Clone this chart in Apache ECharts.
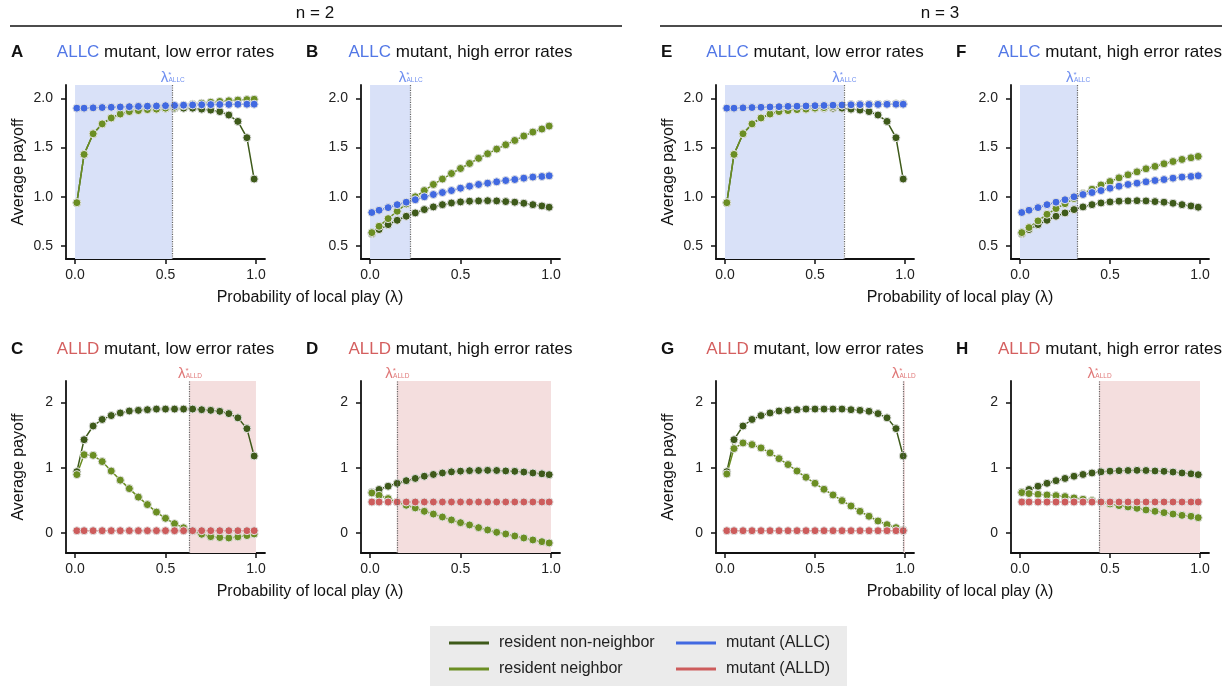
<!DOCTYPE html>
<html><head><meta charset="utf-8">
<script src="https://cdn.jsdelivr.net/npm/echarts/dist/echarts.min.js"></script>
<style>html,body{margin:0;padding:0;background:#fff}#c{width:1229px;height:686px}</style>
</head><body><div id="c"></div>
<script>
// ---------------- data ----------------
const lambda = [0.01,0.05,0.10,0.15,0.20,0.25,0.30,0.35,0.40,0.45,0.50,0.55,0.60,0.65,0.70,0.75,0.80,0.85,0.90,0.95,0.99];

const nonNeighborLow  = [0.94,1.43,1.64,1.74,1.80,1.84,1.87,1.88,1.89,1.90,1.90,1.90,1.90,1.90,1.89,1.88,1.865,1.83,1.765,1.60,1.18];
const nonNeighborHigh = [0.625,0.667,0.717,0.761,0.802,0.836,0.87,0.897,0.92,0.937,0.948,0.955,0.958,0.96,0.958,0.951,0.945,0.934,0.92,0.907,0.894];

const neighborA = [0.94,1.43,1.64,1.74,1.80,1.84,1.865,1.875,1.885,1.89,1.90,1.91,1.925,1.94,1.95,1.96,1.968,1.975,1.982,1.987,1.99];
const neighborB = [0.636,0.70,0.778,0.853,0.927,1.0,1.063,1.125,1.18,1.236,1.287,1.338,1.39,1.437,1.484,1.528,1.572,1.617,1.657,1.688,1.718];
const neighborC = [0.895,1.20,1.19,1.095,0.95,0.81,0.68,0.55,0.435,0.32,0.225,0.143,0.08,0.03,-0.02,-0.056,-0.07,-0.077,-0.06,-0.04,-0.015];
const neighborD = [0.614,0.578,0.527,0.476,0.425,0.384,0.332,0.29,0.245,0.2,0.158,0.123,0.082,0.046,0.01,-0.015,-0.046,-0.077,-0.107,-0.133,-0.153];
const neighborE = [0.94,1.43,1.64,1.74,1.80,1.84,1.865,1.875,1.885,1.89,1.90,1.905,1.915,1.93,1.937,1.939,1.94,1.941,1.943,1.944,1.944];
const neighborF = [0.636,0.687,0.755,0.822,0.88,0.93,0.982,1.033,1.077,1.12,1.155,1.192,1.223,1.253,1.284,1.308,1.335,1.358,1.379,1.396,1.41];
const neighborG = [0.905,1.294,1.38,1.355,1.304,1.228,1.14,1.049,0.95,0.854,0.762,0.67,0.583,0.496,0.414,0.332,0.256,0.184,0.128,0.082,0.046];
const neighborH = [0.619,0.604,0.593,0.583,0.573,0.558,0.537,0.517,0.496,0.47,0.445,0.42,0.399,0.378,0.353,0.332,0.312,0.29,0.27,0.256,0.235];

const mutantALLCLow  = [1.90,1.90,1.903,1.906,1.909,1.912,1.915,1.918,1.92,1.922,1.925,1.927,1.93,1.932,1.934,1.936,1.937,1.938,1.939,1.94,1.94];
const mutantALLCHigh = [0.84,0.863,0.89,0.92,0.945,0.97,1.0,1.023,1.043,1.063,1.087,1.107,1.125,1.138,1.152,1.165,1.175,1.189,1.2,1.206,1.213];
const mutantALLDLow  = [0.035,0.035,0.035,0.035,0.035,0.035,0.035,0.035,0.035,0.035,0.035,0.035,0.035,0.035,0.035,0.035,0.035,0.035,0.035,0.035,0.035];
const mutantALLDHigh = [0.475,0.475,0.475,0.475,0.475,0.475,0.475,0.475,0.475,0.475,0.475,0.475,0.475,0.475,0.475,0.475,0.475,0.475,0.475,0.475,0.475];

const panelLetters = ['A','B','C','D','E','F','G','H'];
const panelMutant  = ['ALLC','ALLC','ALLD','ALLD','ALLC','ALLC','ALLD','ALLD'];
const panelTitles  = ['mutant, low error rates','mutant, high error rates','mutant, low error rates','mutant, high error rates',
                      'mutant, low error rates','mutant, high error rates','mutant, low error rates','mutant, high error rates'];
const lambdaStar   = [0.537,0.222,0.632,0.148,0.66,0.32,0.99,0.439];
const topTicks     = [0.5,1.0,1.5,2.0];
const bottomTicks  = [0,1,2];
const xTicks       = [0,0.5,1];
const seriesNames  = ['resident non-neighbor','resident neighbor','mutant (ALLC)','mutant (ALLD)'];
const headers      = ['n = 2','n = 3'];

// ---------------- styling / layout ----------------
const FONT = 'Liberation Sans, Arial, Helvetica, sans-serif';
const C_DARK = '#3e5a1a', C_LIGHT = '#6b8e23', C_BLUE = '#4169e1', C_RED = '#cd5c5c';
const T_BLUE = '#5277e6', T_RED = '#d45f5f';
const L_BLUE = '#6f8ff0', L_RED = '#e07878';
const SH_BLUE = '#d9e1f8', SH_RED = '#f4dede';

const panels = [
  {grid:[66,85,199,174],  row:0, nonN:nonNeighborLow,  nb:neighborA, mut:mutantALLCLow},
  {grid:[361,85,199,174], row:0, nonN:nonNeighborHigh, nb:neighborB, mut:mutantALLCHigh},
  {grid:[66,381,199,172], row:1, nonN:nonNeighborLow,  nb:neighborC, mut:mutantALLDLow},
  {grid:[361,381,199,172],row:1, nonN:nonNeighborHigh, nb:neighborD, mut:mutantALLDHigh},
  {grid:[716,85,198,174], row:0, nonN:nonNeighborLow,  nb:neighborE, mut:mutantALLCLow},
  {grid:[1011,85,198,174],row:0, nonN:nonNeighborHigh, nb:neighborF, mut:mutantALLCHigh},
  {grid:[716,381,198,172],row:1, nonN:nonNeighborLow,  nb:neighborG, mut:mutantALLDLow},
  {grid:[1011,381,198,172],row:1, nonN:nonNeighborHigh, nb:neighborH, mut:mutantALLDHigh}
];
const yRange = [[0.368,2.135],[-0.307,2.33]];

const grids=[], xAxes=[], yAxes=[], series=[];
const axisLine = {show:true, onZero:false, lineStyle:{color:'#111', width:1.8}};
const axisTick = {show:true, length:5, inside:false, lineStyle:{color:'#111', width:1.5}};

panels.forEach((p,i)=>{
  grids.push({left:p.grid[0], top:p.grid[1], width:p.grid[2], height:p.grid[3], containLabel:false});
  xAxes.push({type:'value', gridIndex:i, min:-0.05, max:1.05, position:'bottom',
    axisLine, axisTick:Object.assign({customValues:xTicks},axisTick), splitLine:{show:false},
    axisLabel:{customValues:xTicks, margin:9, fontSize:14, fontFamily:FONT, color:'#222',
      formatter:v=>v.toFixed(1)}});
  const ticks = p.row===0 ? topTicks : bottomTicks;
  yAxes.push({type:'value', gridIndex:i, min:yRange[p.row][0], max:yRange[p.row][1], position:'left',
    axisLine, axisTick:Object.assign({customValues:ticks},axisTick), splitLine:{show:false},
    axisLabel:{customValues:ticks, margin:13, fontSize:14, fontFamily:FONT, color:'#222',
      formatter:v=> p.row===0 ? v.toFixed(1) : String(Math.round(v))}});
  const isC = panelMutant[i]==='ALLC';
  const mk = (name, vals, color, extra) => Object.assign({
    name, type:'line', xAxisIndex:i, yAxisIndex:i,
    data: lambda.map((x,k)=>[x, vals[k]]),
    symbol:'circle', symbolSize:8, showSymbol:true,
    lineStyle:{color, width:1.5},
    itemStyle:{color, borderColor:'#e2e2e2', borderWidth:1},
    emphasis:{disabled:true}, animation:false
  }, extra||{});
  series.push(mk(seriesNames[0], p.nonN, C_DARK, {
    markArea:{silent:true, itemStyle:{color: isC?SH_BLUE:SH_RED},
      data:[ isC ? [{xAxis:0},{xAxis:lambdaStar[i]}] : [{xAxis:lambdaStar[i]},{xAxis:1}] ]},
    markLine:{silent:true, symbol:'none', label:{show:false},
      lineStyle:{type:'dotted', color:'#666', width:1.2}, data:[{xAxis:lambdaStar[i]}]}
  }));
  series.push(mk(seriesNames[1], p.nb, C_LIGHT));
  series.push(mk(isC?seriesNames[2]:seriesNames[3], p.mut, isC?C_BLUE:C_RED));
});

const legendCommon = {orient:'vertical', top:635, itemWidth:40, itemHeight:3, itemGap:10, icon:'rect',
  selectedMode:false, padding:0, itemStyle:{borderWidth:0},
  textStyle:{fontSize:16, fontFamily:FONT, color:'#222', lineHeight:16, padding:[0,0,0,5]}, z:5};

const chart = echarts.init(document.getElementById('c'), null, {renderer:'canvas'});
chart.setOption({
  backgroundColor:'#fff', animation:false,
  grid:grids, xAxis:xAxes, yAxis:yAxes, series,
  legend:[
    Object.assign({left:449, data:[{name:seriesNames[0]},{name:seriesNames[1]}]}, legendCommon),
    Object.assign({left:676, data:[{name:seriesNames[2]},{name:seriesNames[3]}]}, legendCommon)
  ]
});

// ---------------- annotations ----------------
const g = [];
g.push({type:'rect', shape:{x:430,y:626,width:417,height:60}, style:{fill:'#ebebeb'}, z:0, silent:true});
[[315,10,622],[940,660,1222]].forEach((h,j)=>{
  g.push({type:'text', x:h[0], y:13.5, style:{text:headers[j], fontSize:17, fontFamily:FONT, fill:'#111',
    align:'center', verticalAlign:'middle', textAlign:'center', textVerticalAlign:'middle'}});
  g.push({type:'line', shape:{x1:h[1], y1:26, x2:h[2], y2:26}, style:{stroke:'#111', lineWidth:1.3}});
});
[[310,298],[960,298],[310,592],[960,592]].forEach(pp=>{
  g.push({type:'text', x:pp[0], y:pp[1], style:{text:'Probability of local play (λ)', fontSize:16, fontFamily:FONT, fill:'#111',
    align:'center', verticalAlign:'middle', textAlign:'center', textVerticalAlign:'middle'}});
});
panels.forEach((p,i)=>{
  const [L,T,W,H] = p.grid;
  const isC = panelMutant[i]==='ALLC';
  const ty = p.row===0 ? 52.5 : 349.5;
  g.push({type:'text', x:L-55, y:ty, style:{text:panelLetters[i], fontSize:17, fontWeight:'bold', fontFamily:FONT, fill:'#111',
    align:'left', verticalAlign:'middle', textAlign:'left', textVerticalAlign:'middle'}});
  g.push({type:'text', x:L+W/2, y:ty, style:{text:'{c|'+panelMutant[i]+'} '+panelTitles[i], fontSize:17, fontFamily:FONT, fill:'#111',
    rich:{c:{fill:isC?T_BLUE:T_RED, color:isC?T_BLUE:T_RED, fontSize:17, fontFamily:FONT}},
    align:'center', verticalAlign:'middle', textAlign:'center', textVerticalAlign:'middle'}});
  if (i===0||i===2||i===4||i===6) {
    g.push({type:'text', x:L-47.5, y:T+H/2, rotation:Math.PI/2, style:{text:'Average payoff', fontSize:16, fontFamily:FONT, fill:'#111',
      align:'center', verticalAlign:'middle', textAlign:'center', textVerticalAlign:'middle'}});
  }
  const px = chart.convertToPixel({xAxisIndex:i, yAxisIndex:i}, [lambdaStar[i], yRange[p.row][1]]);
  const cx = px[0], cy = px[1] - 7;
  const col = isC ? L_BLUE : L_RED;
  g.push({type:'text', x:cx-4, y:cy, style:{text:'λ', fontSize:15, fontFamily:FONT, fill:col,
    align:'right', verticalAlign:'middle', textAlign:'right', textVerticalAlign:'middle'}});
  g.push({type:'text', x:cx-4, y:cy-3.5, style:{text:'*', fontSize:8, fontFamily:FONT, fill:col,
    align:'left', verticalAlign:'middle', textAlign:'left', textVerticalAlign:'middle'}});
  g.push({type:'text', x:cx-3.7, y:cy+2.5, style:{text:isC?'ALLC':'ALLD', fontSize:6.5, fontFamily:FONT, fill:col,
    align:'left', verticalAlign:'middle', textAlign:'left', textVerticalAlign:'middle'}});
});
chart.setOption({graphic:g});
</script>
</body></html>
